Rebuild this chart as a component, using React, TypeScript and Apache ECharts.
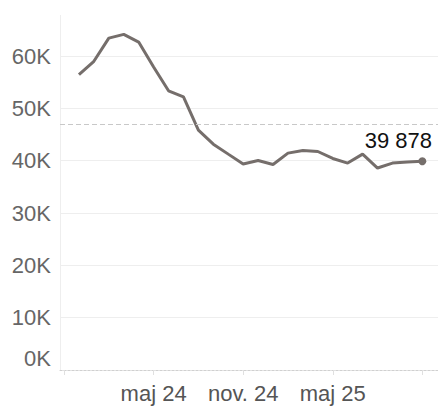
import React, { useEffect, useRef } from "react";
import * as echarts from "echarts";

// Month labels (Danish), index 0 = nov. 23
const monthLabels = [
  "nov. 23", "dec. 23", "jan. 24", "feb. 24", "mar. 24", "apr. 24", "maj 24",
  "jun. 24", "jul. 24", "aug. 24", "sep. 24", "okt. 24", "nov. 24", "dec. 24",
  "jan. 25", "feb. 25", "mar. 25", "apr. 25", "maj 25", "jun. 25", "jul. 25",
  "aug. 25", "sep. 25", "okt. 25", "nov. 25",
];
// Series values, dec. 23 .. nov. 25
const seriesValues = [
  56460, 58990, 63420, 64130, 62660, 57900, 53350, 52200, 45850, 43160, 41250,
  39350, 40040, 39280, 41440, 41940, 41750, 40420, 39540, 41250, 38590, 39540,
  39730, 39878,
];
const firstMonthIndex = 1;
const xTickIndices = [0, 6, 12, 18, 24];
const xLabelIndices = [6, 12, 18];
const referenceValue = 46950;

const FONT = "'Liberation Sans', Arial, Helvetica, sans-serif";

function formatThousands(v: number): string {
  return String(Math.round(v)).replace(/\B(?=(\d{3})+(?!\d))/g, " ");
}

export default function App() {
  const ref = useRef<HTMLDivElement>(null);
  useEffect(() => {
    if (!ref.current) return;
    const chart = echarts.init(ref.current, null, { renderer: "svg" });
    const lastIdx = seriesValues.length - 1;
    const data = seriesValues.map((v, i) => {
      const point: any = { value: [i + firstMonthIndex, v] };
      if (i === lastIdx) {
        point.symbol = "circle";
        point.symbolSize = 8;
        point.label = {
          show: true,
          position: "top",
          offset: [-24, -1],
          formatter: (p: any) => formatThousands(p.value[1]),
          fontSize: 22,
          fontFamily: FONT,
          color: "#111",
        };
      }
      return point;
    });
    chart.setOption({
      animation: false,
      grid: { left: 60, right: 0, top: 56, bottom: 36, containLabel: false },
      xAxis: {
        type: "value",
        min: -0.27,
        max: 25.05,
        axisLine: { show: true, lineStyle: { color: "#d0d0d0", type: [2, 2], width: 1 } },
        axisTick: {
          show: true,
          customValues: xTickIndices,
          length: 5,
          lineStyle: { color: "#e0e0e0" },
        },
        axisLabel: {
          customValues: xLabelIndices,
          formatter: (v: number) => monthLabels[Math.round(v)] ?? "",
          fontSize: 22,
          fontFamily: FONT,
          color: "#555",
          margin: 12,
        },
        splitLine: { show: false },
      },
      yAxis: {
        type: "value",
        min: 0,
        max: 60000,
        interval: 10000,
        axisLine: { show: false },
        axisTick: { show: false },
        splitLine: { show: true, lineStyle: { color: "#eeeeee", width: 1 } },
        axisLabel: {
          fontSize: 22,
          fontFamily: FONT,
          color: "#666",
          margin: 9,
          formatter: (v: number) => (v === 0 ? "{z|0K}" : v / 1000 + "K"),
          rich: {
            z: {
              fontSize: 22,
              fontFamily: FONT,
              color: "#666",
              padding: [0, 0, 24, 0],
            },
          },
        },
      },
      graphic: [
        {
          type: "line",
          shape: { x1: 60.5, y1: 15, x2: 60.5, y2: 370 },
          style: { stroke: "#eeeeee", lineWidth: 1 },
          z: 0,
        },
      ],
      series: [
        {
          type: "line",
          data,
          clip: false,
          showSymbol: true,
          symbol: "none",
          lineStyle: { color: "#756e6b", width: 3 },
          itemStyle: { color: "#756e6b" },
          markLine: {
            silent: true,
            symbol: ["none", "none"],
            label: { show: false },
            lineStyle: { color: "#c8c8c8", type: [5, 3], width: 1 },
            data: [{ yAxis: referenceValue }],
          },
        },
      ],
    });
    return () => chart.dispose();
  }, []);
  return (
    <div
      ref={ref}
      style={{ position: "fixed", left: 0, top: 0, width: 438, height: 406, background: "#fff" }}
    />
  );
}
